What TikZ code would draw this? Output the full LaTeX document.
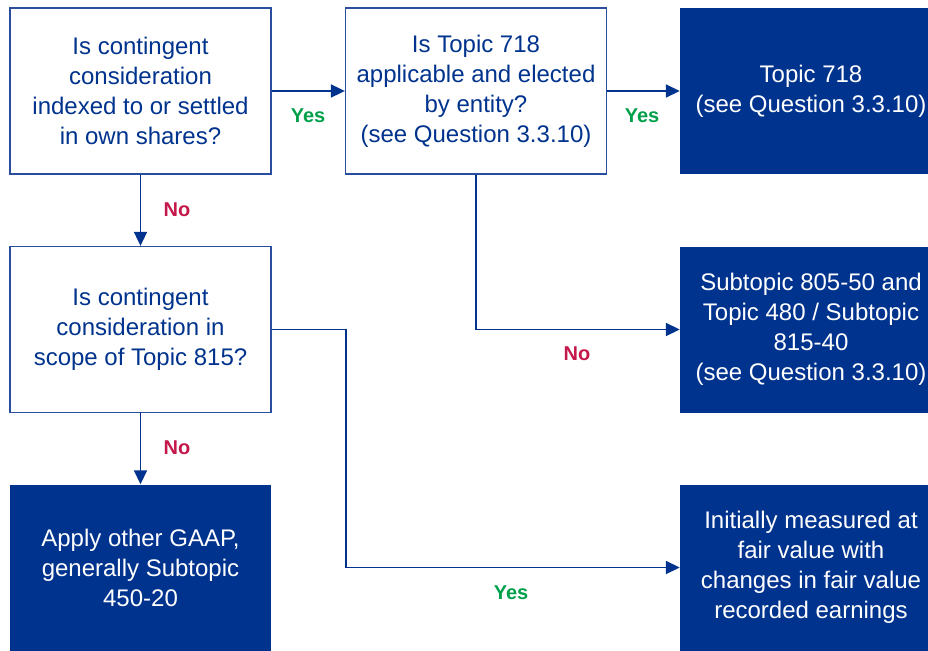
\documentclass[tikz,border=0pt]{standalone}
\usepackage{fontspec}
\setmainfont{Liberation Sans}
\usetikzlibrary{arrows.meta}
\definecolor{kblue}{HTML}{00338D}
\definecolor{kborder}{HTML}{2A4E9E}
\definecolor{kgreen}{HTML}{00A04B}
\definecolor{kred}{HTML}{C4184A}
\tikzset{
  qbox/.style={draw=kborder, line width=1.3pt, fill=white, minimum width=261pt, minimum height=166pt, inner sep=0pt, align=center, text=kblue, font=\fontsize{24}{30}\selectfont},
  abox/.style={fill=kblue, minimum width=262pt, minimum height=166pt, inner sep=0pt, align=center, text=white, font=\fontsize{24}{30}\selectfont},
  conn/.style={draw=kblue, line width=1.8pt, -{Triangle[length=14pt,width=13pt]}},
  yeslbl/.style={text=kgreen, font=\bfseries\fontsize{20}{22}\selectfont},
  nolbl/.style={text=kred, font=\bfseries\fontsize{20}{22}\selectfont}
}
\begin{document}
\begin{tikzpicture}[x=1pt,y=-1pt]
\useasboundingbox (0,0) rectangle (928,650);
\begin{scope}
\clip (0,0) rectangle (928,650);
\node[qbox] (A) at (140.5,91) {Is contingent\\consideration\\indexed to or settled\\in own shares?};
\node[qbox] (B) at (476,91) {Is Topic 718\\applicable and elected\\by entity?\\(see Question 3.3.10)};
\node[abox] (C) at (811,91) {Topic 718\\(see Question 3.3.10)};
\node[qbox] (D) at (140.5,329.5) {Is contingent\\consideration in\\scope of Topic 815?};
\node[abox] (E) at (811,329.5) {Subtopic 805-50 and\\Topic 480 / Subtopic\\815-40\\(see Question 3.3.10)};
\node[abox, minimum width=261pt] (F) at (140.5,567.5) {Apply other GAAP,\\generally Subtopic\\450-20};
\node[abox] (G) at (811,567.5) {Initially measured at\\fair value with\\changes in fair value\\recorded earnings};
\draw[conn] (A.east) -- (B.west);
\draw[conn] (B.east) -- (C.west);
\draw[conn] (A.south) -- (D.north);
\draw[conn] (B.south) |- (E.west);
\draw[conn] (D.south) -- (F.north);
\draw[conn] (D.east) -- ++(74,0) |- (G.west);
\node[yeslbl] (y1) at (308,116) {Yes};
\node[yeslbl] (y2) at (642,116) {Yes};
\node[nolbl] (n1) at (177,210) {No};
\node[nolbl] (n2) at (577,354) {No};
\node[nolbl] (n3) at (177,448) {No};
\node[yeslbl] (y3) at (511,593) {Yes};
\end{scope}
\end{tikzpicture}
\end{document}
